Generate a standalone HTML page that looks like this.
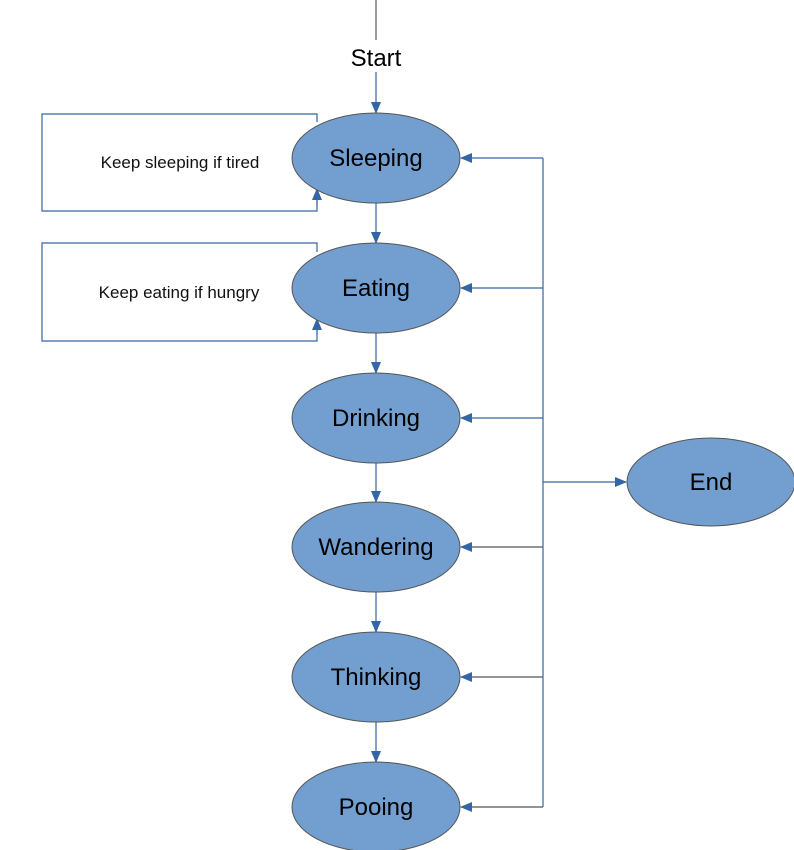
<!DOCTYPE html>
<html><head><style>body{margin:0;background:#fff}svg{display:block}</style></head><body>
<svg width="794" height="850" xmlns="http://www.w3.org/2000/svg" font-family="Liberation Sans, sans-serif">
<defs>
<marker id="a" markerWidth="12" markerHeight="10" refX="11" refY="5" orient="auto" markerUnits="userSpaceOnUse"><path d="M0,0 L12,5 L0,10 Z" fill="#3465a4"/></marker>
</defs>
<g fill="none" stroke="#3465a4" stroke-width="1.2">
<line x1="376" y1="0" x2="376" y2="40" stroke="#555"/>
<line x1="376" y1="72" x2="376" y2="113" marker-end="url(#a)"/>
<line x1="376" y1="203" x2="376" y2="243" marker-end="url(#a)"/>
<line x1="376" y1="333" x2="376" y2="373" marker-end="url(#a)"/>
<line x1="376" y1="463" x2="376" y2="502" marker-end="url(#a)"/>
<line x1="376" y1="592" x2="376" y2="632" marker-end="url(#a)"/>
<line x1="376" y1="722" x2="376" y2="762" marker-end="url(#a)"/>
<polyline points="317,192 317,211 42,211 42,114 317,114 317,122"/>
<line x1="317" y1="205" x2="317" y2="189" marker-end="url(#a)"/>
<polyline points="317,322 317,341 42,341 42,243 317,243 317,252"/>
<line x1="317" y1="335" x2="317" y2="319" marker-end="url(#a)"/>
<line x1="543" y1="158" x2="543" y2="807"/>
<line x1="543" y1="158" x2="461" y2="158" marker-end="url(#a)"/>
<line x1="543" y1="288" x2="461" y2="288" marker-end="url(#a)"/>
<line x1="543" y1="418" x2="461" y2="418" marker-end="url(#a)"/>
<line x1="543" y1="547" x2="461" y2="547" stroke="#555" marker-end="url(#a)"/>
<line x1="543" y1="677" x2="461" y2="677" stroke="#555" marker-end="url(#a)"/>
<line x1="543" y1="807" x2="461" y2="807" stroke="#555" marker-end="url(#a)"/>
<line x1="543" y1="482" x2="626" y2="482" marker-end="url(#a)"/>
</g>
<g fill="#729fcf" stroke="#555" stroke-width="1">
<ellipse cx="376" cy="158" rx="84" ry="45"/>
<ellipse cx="376" cy="288" rx="84" ry="45"/>
<ellipse cx="376" cy="418" rx="84" ry="45"/>
<ellipse cx="376" cy="547" rx="84" ry="45"/>
<ellipse cx="376" cy="677" rx="84" ry="45"/>
<ellipse cx="376" cy="807" rx="84" ry="45"/>
<ellipse cx="711" cy="482" rx="84" ry="44"/>
</g>
<g font-size="24" text-anchor="middle" fill="#000">
<text x="376" y="66">Start</text>
<text x="376" y="166">Sleeping</text>
<text x="376" y="296">Eating</text>
<text x="376" y="426">Drinking</text>
<text x="376" y="555">Wandering</text>
<text x="376" y="685">Thinking</text>
<text x="376" y="815">Pooing</text>
<text x="711" y="490">End</text>
</g>
<g font-size="17" text-anchor="middle" fill="#111">
<text x="180" y="168">Keep sleeping if tired</text>
<text x="179" y="298">Keep eating if hungry</text>
</g>
</svg>
</body></html>
